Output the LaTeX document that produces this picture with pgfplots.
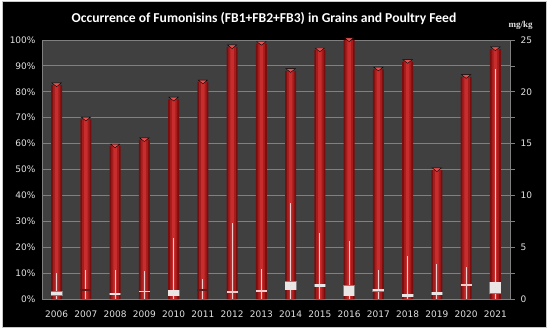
\documentclass[border=0pt]{standalone}
\usepackage{pgfplots}
\usepackage{pgfplotstable}
\pgfplotsset{compat=1.18}
\usepackage{fontspec}
\setmainfont{DejaVu Sans}
\newfontfamily\tickfont{DejaVu Sans}
\newfontfamily\titlefont{Carlito}
\newfontfamily\mgfont{Liberation Serif}
\definecolor{plotbg}{RGB}{64,64,64}
\definecolor{gridc}{RGB}{128,128,128}
\definecolor{tickc}{RGB}{225,225,225}
\definecolor{bardark}{RGB}{120,14,14}
\definecolor{barmid}{RGB}{165,28,28}
\definecolor{barlight}{RGB}{200,45,45}
\definecolor{barcap}{RGB}{230,80,80}
\definecolor{whisk}{RGB}{240,205,205}
\definecolor{boxc}{RGB}{235,230,230}
\definecolor{boxdark}{RGB}{95,25,25}
\pgfplotstableread{
x pct high
0 82.6 2.5
1 69.4 2.77
2 59 2.77
3 61.4 2.67
4 77.1 5.86
5 83.7 1.9
6 97.3 7.3
7 98.6 2.9
8 88.1 9.24
9 96.1 6.4
10 100 5.63
11 88.7 2.8
12 91.6 4.15
13 49.8 3.35
14 85.8 3.12
15 96.5 22.2
}\datatable
\begin{document}
\begin{tikzpicture}
\useasboundingbox (0,0) rectangle (550bp,332bp);
\fill[white] (0,0) rectangle (550bp,332bp);
\filldraw[fill=black, draw={rgb,255:red,200;green,200;blue,200}, line width=0.8bp] (2bp,5bp) rectangle (546bp,331bp);
\node[text=white, font=\titlefont\bfseries\fontsize{13.6bp}{15bp}\selectfont] at (264bp,313bp) {Occurrence of Fumonisins (FB1+FB2+FB3) in Grains and Poultry Feed};
\node[text=tickc, font=\mgfont\bfseries\fontsize{9bp}{10bp}\selectfont, anchor=west] at (505bp,307bp) {mg/kg};
\begin{axis}[
  at={(42bp,33bp)}, anchor=south west,
  scale only axis, width=468bp, height=259bp,
  xmin=-0.5, xmax=15.5, ymin=0, ymax=100,
  axis background/.style={fill=plotbg},
  axis x line*=bottom, axis y line*=left,
  axis line style={draw=gridc, line width=0.8bp},
  ytick={0,10,...,100},
  yticklabels={0\%,10\%,20\%,30\%,40\%,50\%,60\%,70\%,80\%,90\%,100\%},
  xtick={0,...,15},
  xticklabels={2006,2007,2008,2009,2010,2011,2012,2013,2014,2015,2016,2017,2018,2019,2020,2021},
  major tick length=0pt,
  ymajorgrids, grid style={draw=gridc, line width=0.8bp},
  tick label style={text=tickc, font=\tickfont\fontsize{9bp}{10bp}\selectfont},
  xticklabel style={yshift=-8bp},
  yticklabel style={xshift=-3bp},
  clip=false,
]
\addplot[ybar, bar width=11bp, bar shift=0pt, draw=none, fill=bardark] table[x=x,y=pct] {\datatable};
\addplot[ybar, bar width=7.5bp, bar shift=0pt, draw=none, fill=barmid] table[x=x,y=pct] {\datatable};
\addplot[ybar, bar width=3.5bp, bar shift=0pt, draw=none, fill=barlight] table[x=x,y=pct] {\datatable};
\addplot[only marks, mark=triangle*, mark size=5.5bp,
  mark options={rotate=180, yscale=0.45, fill=barcap, draw=none, yshift=-2bp}]
  table[x=x,y=pct] {\datatable};
\end{axis}
\begin{axis}[
  at={(42bp,33bp)}, anchor=south west,
  scale only axis, width=468bp, height=259bp,
  xmin=-0.5, xmax=15.5, ymin=0, ymax=25,
  axis x line=none, axis y line*=right,
  axis line style={draw=gridc, line width=0.8bp},
  ytick={0,2.5,...,25},
  yticklabels={0,,5,,10,,15,,20,,25},
  tick align=outside, major tick length=5bp,
  tick style={draw=gridc, line width=0.8bp},
  tick label style={text=tickc, font=\tickfont\fontsize{9bp}{10bp}\selectfont},
  yticklabel style={xshift=2bp},
  clip=false,
  boxplt/.style={only marks, mark=*, mark size=0pt, mark options={draw=none, fill=none},
    error bars/y dir=both, error bars/y explicit, error bars/error mark=none},
]
\addplot[ycomb, draw=whisk, line width=1bp] table[x=x,y=high] {\datatable};
% white up-boxes
\addplot[boxplt, error bars/error bar style={line width=12bp, draw=gray}]
 coordinates {(0,0.525) +- (0,0.2) (2,0.5) +- (0,0.125) (4,0.57) +- (0,0.295)
  (8,1.27) +- (0,0.425) (9,1.29) +- (0,0.155) (10,0.8) +- (0,0.505)
  (11,0.85) +- (0,0.135) (12,0.32) +- (0,0.155) (13,0.51) +- (0,0.155) (15,1.075) +- (0,0.55)};
\addplot[boxplt, error bars/error bar style={line width=10.5bp, draw=boxc}]
 coordinates {(0,0.525) +- (0,0.175) (2,0.5) +- (0,0.1) (4,0.57) +- (0,0.27)
  (8,1.27) +- (0,0.4) (9,1.29) +- (0,0.13) (10,0.8) +- (0,0.48)
  (11,0.85) +- (0,0.11) (12,0.32) +- (0,0.13) (13,0.51) +- (0,0.13) (15,1.075) +- (0,0.525)};
% thin light lines
\addplot[boxplt, error bars/error bar style={line width=11bp, draw=whisk}]
 coordinates {(3,0.77) +- (0,0.05) (6,0.68) +- (0,0.06) (7,0.8) +- (0,0.06) (14,1.38) +- (0,0.04)};
% thin dark lines
\addplot[boxplt, error bars/error bar style={line width=11bp, draw=boxdark}]
 coordinates {(1,0.87) +- (0,0.06) (5,0.87) +- (0,0.06)};
\end{axis}
\end{tikzpicture}
\end{document}
